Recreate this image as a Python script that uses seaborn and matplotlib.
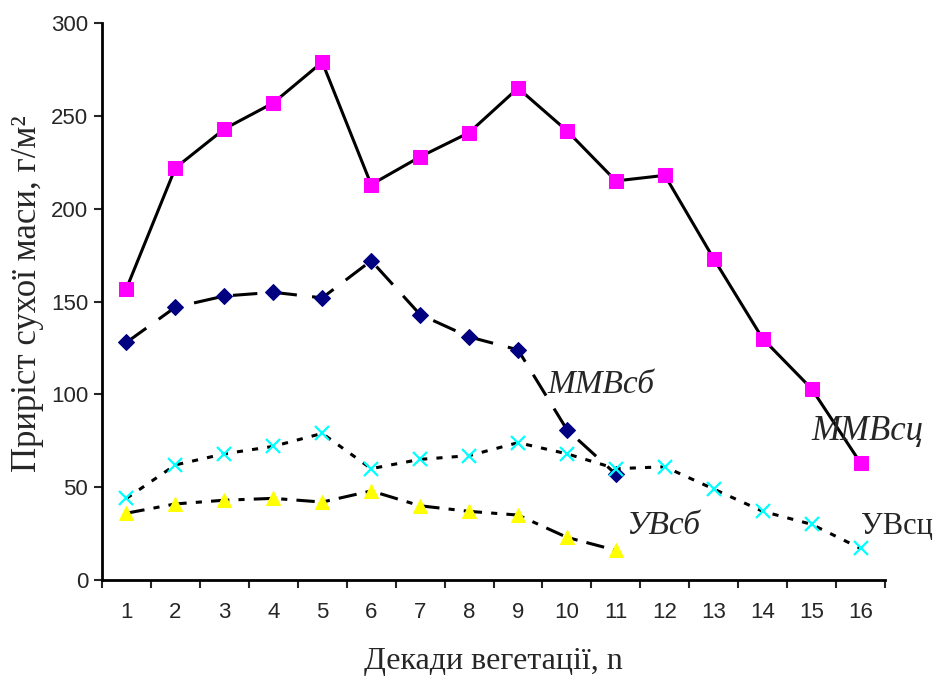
import pandas as pd
import matplotlib.pyplot as plt
import seaborn as sns

# Декади вегетації
dekady = list(range(1, 17))

# Приріст сухої маси, г/м2
mmv_sc = [157, 222, 243, 257, 279, 213, 228, 241, 265, 242, 215, 218, 173, 130, 103, 63]
mmv_sb = [128, 147, 153, 155, 152, 172, 143, 131, 124, 81, 57]
uv_sc = [44, 62, 68, 72, 79, 60, 65, 67, 74, 68, 60, 61, 49, 37, 30, 17]
uv_sb = [36, 41, 43, 44, 42, 48, 40, 37, 35, 23, 16]

sns.set_style('white')
plt.rcParams['font.family'] = ['Liberation Sans', 'DejaVu Sans']

fig = plt.figure(figsize=(9.39, 6.8), dpi=100)
ax = fig.add_axes([0.1086, 0.147, 0.834, 0.819])

sns.lineplot(x=dekady, y=mmv_sc, ax=ax, color='black', lw=2.2,
             marker='s', markersize=10, markerfacecolor='#ff00ff',
             markeredgecolor='#ff00ff')
sns.lineplot(x=dekady[:11], y=mmv_sb, ax=ax, color='black', lw=2.2,
             marker='D', markersize=8, markerfacecolor='#000080',
             markeredgecolor='#000080')
ax.lines[-1].set_dashes((8, 5))
sns.lineplot(x=dekady, y=uv_sc, ax=ax, color='black', lw=2.2,
             marker='x', markersize=10, markeredgewidth=1.6,
             markeredgecolor='#00ffff')
ax.lines[-1].set_dashes((2, 3))
sns.lineplot(x=dekady[:11], y=uv_sb, ax=ax, color='black', lw=2.2,
             marker='^', markersize=10, markerfacecolor='#ffff00',
             markeredgecolor='#ffff00')
ax.lines[-1].set_dashes((6, 3, 2, 3))

ax.set_xlim(0.5, 16.5)
ax.set_ylim(0, 300)
ax.set_xticks(dekady)
ax.set_xticks([i + 0.5 for i in range(0, 17)], minor=True)
ax.set_yticks(range(0, 301, 50))
ax.tick_params(axis='x', which='major', length=0, pad=16, labelsize=16)
ax.tick_params(axis='x', which='minor', length=6, width=1.5, direction='out', bottom=True)
ax.tick_params(axis='y', length=6, width=1.5, direction='out', left=True, labelsize=16, pad=4)

for side in ['top', 'right']:
    ax.spines[side].set_visible(False)
for side in ['left', 'bottom']:
    ax.spines[side].set_linewidth(2)
    ax.spines[side].set_color('black')

ax.set_xlabel('Декади вегетації, n', fontsize=23, family='Liberation Serif', labelpad=17)
ax.set_ylabel('Приріст сухої маси, г/м²', fontsize=25, family='Liberation Serif', labelpad=4)
ax.yaxis.set_label_coords(-0.074, 0.515)

ax.text(9.6, 105, 'ММВсб', fontsize=24, family='Liberation Serif', style='italic', va='center')
ax.text(15.0, 80, 'ММВсц', fontsize=25, family='Liberation Serif', style='italic', va='center')
ax.text(11.2, 29, 'УВсб', fontsize=24, family='Liberation Serif', style='italic', va='center')
ax.text(16.0, 29, 'УВсц', fontsize=22, family='Liberation Serif', va='center')

plt.savefig('out.png', dpi=100)
